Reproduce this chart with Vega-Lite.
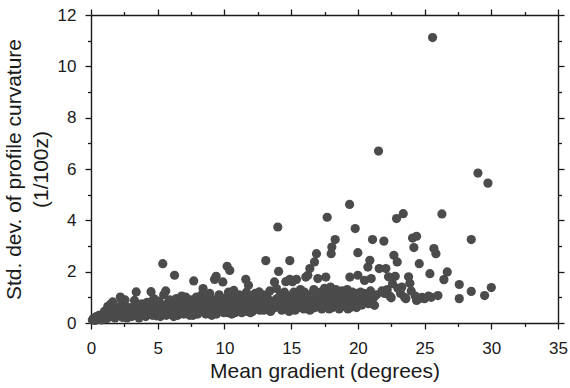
{
  "$schema": "https://vega.github.io/schema/vega-lite/v6.json",
  "width": 467,
  "height": 308,
  "autosize": {"type": "none"},
  "padding": {"left": 91, "top": 15, "right": 12, "bottom": 65},
  "config": {
    "view": {"stroke": null},
    "axis": {
      "domainColor": "#1a1a1a", "tickColor": "#1a1a1a", "labelColor": "#1a1a1a", "titleColor": "#1a1a1a",
      "labelFont": "Liberation Sans", "titleFont": "Liberation Sans",
      "labelFontSize": 17, "titleFontSize": 21, "titleFontWeight": "normal",
      "grid": false, "domainWidth": 1.4, "tickWidth": 1.3, "labelOverlap": false, "labelFlush": false
    }
  },
  "data": {"values": [
    {"g":0.1,"c":0.12},{"g":0.2,"c":0.18},{"g":0.3,"c":0.1},{"g":0.4,"c":0.25},{"g":0.5,"c":0.15},{"g":0.6,"c":0.3},{"g":0.7,"c":0.2},{"g":0.8,"c":0.12},{"g":0.9,"c":0.35},{"g":0.95,"c":0.22},
    {"g":1.1,"c":0.3},{"g":1.2,"c":0.18},{"g":1.26,"c":0.65},{"g":1.35,"c":0.4},{"g":1.5,"c":0.75},{"g":1.55,"c":0.25},{"g":1.63,"c":0.82},{"g":1.7,"c":0.5},{"g":1.8,"c":0.2},{"g":1.9,"c":0.38},{"g":1.95,"c":0.6},
    {"g":2.05,"c":0.3},{"g":2.2,"c":1.01},{"g":2.31,"c":0.85},{"g":2.35,"c":0.22},{"g":2.4,"c":0.55},{"g":2.5,"c":0.7},{"g":2.6,"c":0.35},{"g":2.7,"c":0.2},{"g":2.8,"c":0.45},{"g":2.9,"c":0.6},
    {"g":3.05,"c":0.25},{"g":3.1,"c":0.5},{"g":3.26,"c":0.88},{"g":3.39,"c":1.21},{"g":3.4,"c":0.3},{"g":3.5,"c":0.65},{"g":3.6,"c":0.2},{"g":3.7,"c":0.45},{"g":3.8,"c":0.75},{"g":3.9,"c":0.35},
    {"g":4.0,"c":0.55},{"g":4.1,"c":0.25},{"g":4.2,"c":0.8},{"g":4.3,"c":0.4},{"g":4.5,"c":1.22},{"g":4.5,"c":0.6},{"g":4.6,"c":0.3},{"g":4.7,"c":0.95},{"g":4.8,"c":0.5},{"g":4.9,"c":0.28},{"g":4.95,"c":0.7},
    {"g":5.0,"c":0.4},{"g":5.1,"c":0.85},{"g":5.2,"c":0.25},{"g":5.3,"c":0.6},{"g":5.38,"c":2.31},{"g":5.45,"c":1.1},{"g":5.5,"c":0.45},{"g":5.6,"c":1.25},{"g":5.65,"c":0.3},{"g":5.7,"c":0.75},{"g":5.8,"c":0.55},{"g":5.9,"c":0.9},
    {"g":6.0,"c":0.35},{"g":6.1,"c":0.65},{"g":6.26,"c":1.86},{"g":6.3,"c":0.5},{"g":6.4,"c":0.95},{"g":6.5,"c":0.3},{"g":6.6,"c":0.75},{"g":6.7,"c":0.45},{"g":6.8,"c":1.05},{"g":6.9,"c":0.6},{"g":6.95,"c":0.35},
    {"g":7.0,"c":0.8},{"g":7.1,"c":1.01},{"g":7.2,"c":0.4},{"g":7.3,"c":0.65},{"g":7.4,"c":0.3},{"g":7.5,"c":0.9},{"g":7.6,"c":0.55},{"g":7.7,"c":1.64},{"g":7.8,"c":0.4},{"g":7.9,"c":1.01},{"g":7.95,"c":0.7},
    {"g":8.0,"c":0.35},{"g":8.1,"c":0.85},{"g":8.2,"c":0.6},{"g":8.3,"c":1.1},{"g":8.4,"c":1.34},{"g":8.45,"c":0.45},{"g":8.5,"c":0.75},{"g":8.6,"c":0.35},{"g":8.7,"c":0.95},{"g":8.8,"c":0.55},{"g":8.9,"c":1.15},{"g":8.95,"c":0.4},
    {"g":9.0,"c":0.7},{"g":9.1,"c":0.45},{"g":9.26,"c":1.7},{"g":9.3,"c":0.9},{"g":9.38,"c":1.82},{"g":9.4,"c":0.35},{"g":9.5,"c":0.6},{"g":9.6,"c":1.1},{"g":9.7,"c":0.5},{"g":9.8,"c":0.8},{"g":9.88,"c":1.6},{"g":9.95,"c":0.4},
    {"g":10.0,"c":0.95},{"g":10.1,"c":0.6},{"g":10.2,"c":2.21},{"g":10.25,"c":0.4},{"g":10.3,"c":1.2},{"g":10.4,"c":2.05},{"g":10.45,"c":0.75},{"g":10.5,"c":0.5},{"g":10.6,"c":1.0},{"g":10.7,"c":1.27},{"g":10.75,"c":0.65},{"g":10.8,"c":0.4},{"g":10.9,"c":0.85},
    {"g":11.0,"c":0.55},{"g":11.1,"c":1.1},{"g":11.2,"c":0.7},{"g":11.3,"c":0.4},{"g":11.4,"c":0.95},{"g":11.5,"c":0.6},{"g":11.6,"c":1.7},{"g":11.65,"c":1.2},{"g":11.7,"c":0.45},{"g":11.8,"c":1.47},{"g":11.85,"c":0.8},{"g":11.9,"c":0.55},
    {"g":12.0,"c":1.0},{"g":12.1,"c":0.45},{"g":12.2,"c":0.7},{"g":12.3,"c":1.15},{"g":12.4,"c":0.55},{"g":12.5,"c":0.85},{"g":12.6,"c":1.21},{"g":12.65,"c":0.5},{"g":12.7,"c":0.95},{"g":12.8,"c":0.65},{"g":12.9,"c":1.1},{"g":12.95,"c":0.5},
    {"g":13.0,"c":0.75},{"g":13.1,"c":2.43},{"g":13.15,"c":0.55},{"g":13.2,"c":1.0},{"g":13.3,"c":0.65},{"g":13.4,"c":1.25},{"g":13.5,"c":0.5},{"g":13.6,"c":0.85},{"g":13.75,"c":1.6},{"g":13.8,"c":0.6},{"g":13.9,"c":1.34},{"g":13.95,"c":0.95},
    {"g":14.0,"c":3.74},{"g":14.06,"c":2.01},{"g":14.1,"c":0.7},{"g":14.2,"c":1.1},{"g":14.3,"c":0.5},{"g":14.4,"c":0.9},{"g":14.5,"c":1.2},{"g":14.6,"c":1.61},{"g":14.65,"c":0.6},{"g":14.7,"c":0.8},{"g":14.8,"c":1.05},{"g":14.9,"c":2.43},{"g":14.9,"c":1.7},{"g":14.95,"c":0.55},
    {"g":15.0,"c":0.95},{"g":15.1,"c":1.61},{"g":15.15,"c":0.7},{"g":15.2,"c":1.2},{"g":15.3,"c":0.5},{"g":15.4,"c":1.7},{"g":15.45,"c":0.85},{"g":15.5,"c":1.1},{"g":15.6,"c":0.6},{"g":15.7,"c":1.3},{"g":15.8,"c":0.75},{"g":15.9,"c":1.0},{"g":15.95,"c":0.55},
    {"g":16.0,"c":1.2},{"g":16.1,"c":1.79},{"g":16.15,"c":0.65},{"g":16.25,"c":1.86},{"g":16.3,"c":0.9},{"g":16.4,"c":2.12},{"g":16.45,"c":1.1},{"g":16.5,"c":0.55},{"g":16.6,"c":0.8},{"g":16.7,"c":1.3},{"g":16.75,"c":2.38},{"g":16.8,"c":0.6},{"g":16.9,"c":2.7},{"g":16.95,"c":1.0},
    {"g":17.0,"c":1.73},{"g":17.05,"c":0.7},{"g":17.2,"c":1.2},{"g":17.3,"c":0.55},{"g":17.4,"c":0.95},{"g":17.5,"c":1.35},{"g":17.6,"c":1.79},{"g":17.65,"c":0.65},{"g":17.7,"c":4.12},{"g":17.8,"c":1.1},{"g":17.9,"c":0.8},{"g":17.95,"c":1.4},
    {"g":18.0,"c":2.7},{"g":18.05,"c":2.96},{"g":18.1,"c":0.6},{"g":18.2,"c":1.0},{"g":18.3,"c":3.25},{"g":18.35,"c":1.3},{"g":18.4,"c":0.75},{"g":18.5,"c":1.15},{"g":18.6,"c":0.55},{"g":18.7,"c":0.9},{"g":18.8,"c":1.25},{"g":18.9,"c":0.65},
    {"g":19.0,"c":1.05},{"g":19.1,"c":0.7},{"g":19.2,"c":1.3},{"g":19.38,"c":4.62},{"g":19.4,"c":1.79},{"g":19.45,"c":0.6},{"g":19.5,"c":0.95},{"g":19.6,"c":1.2},{"g":19.7,"c":0.75},{"g":19.8,"c":3.68},{"g":19.85,"c":1.0},{"g":19.9,"c":0.6},{"g":20.0,"c":1.86},{"g":20.0,"c":2.74},
    {"g":20.1,"c":0.9},{"g":20.2,"c":1.2},{"g":20.3,"c":0.7},{"g":20.5,"c":1.66},{"g":20.6,"c":1.0},{"g":20.75,"c":2.18},{"g":20.8,"c":0.75},{"g":20.9,"c":2.44},{"g":21.0,"c":1.73},{"g":21.0,"c":0.95},{"g":21.1,"c":3.25},
    {"g":21.25,"c":0.69},{"g":21.4,"c":1.1},{"g":21.55,"c":6.7},{"g":21.6,"c":2.12},{"g":21.95,"c":3.19},{"g":22.0,"c":1.15},{"g":22.1,"c":2.12},{"g":22.2,"c":1.3},{"g":22.4,"c":1.05},{"g":22.6,"c":1.53},{"g":22.7,"c":2.64},{"g":22.8,"c":1.82},{"g":22.9,"c":4.07},{"g":22.95,"c":2.38},{"g":23.0,"c":1.35},{"g":23.2,"c":1.15},{"g":23.4,"c":4.26},{"g":23.5,"c":1.0},{"g":23.6,"c":0.95},{"g":23.8,"c":1.8},{"g":23.9,"c":1.55},{"g":24.0,"c":1.25},{"g":24.1,"c":3.31},{"g":24.2,"c":2.94},{"g":24.3,"c":1.05},{"g":24.4,"c":3.38},{"g":24.4,"c":0.88},{"g":24.6,"c":2.31},{"g":24.8,"c":1.0},{"g":25.0,"c":0.95},{"g":25.3,"c":1.05},{"g":25.4,"c":1.92},{"g":25.6,"c":11.12},{"g":25.7,"c":2.9},{"g":25.85,"c":2.7},{"g":26.0,"c":1.07},{"g":26.3,"c":4.25},{"g":26.45,"c":1.69},{"g":26.7,"c":1.99},{"g":27.6,"c":1.5},{"g":27.6,"c":0.95},{"g":28.5,"c":3.25},{"g":28.5,"c":1.23},{"g":29.0,"c":5.84},{"g":29.5,"c":1.07},{"g":29.75,"c":5.45},{"g":30.0,"c":1.38},
    {"g":0.35,"c":0.2},{"g":1.0,"c":0.45},{"g":1.45,"c":0.55},{"g":2.15,"c":0.45},{"g":2.55,"c":0.9},{"g":3.0,"c":0.4},{"g":3.55,"c":0.55},{"g":4.05,"c":0.35},{"g":4.4,"c":0.5},{"g":4.85,"c":0.85},
    {"g":5.25,"c":0.5},{"g":5.55,"c":0.65},{"g":6.05,"c":0.5},{"g":6.35,"c":0.8},{"g":6.75,"c":0.4},{"g":7.15,"c":0.55},{"g":7.55,"c":0.75},{"g":7.85,"c":0.5},{"g":8.25,"c":0.45},{"g":8.55,"c":0.9},
    {"g":8.85,"c":0.65},{"g":9.15,"c":0.6},{"g":9.45,"c":0.8},{"g":9.75,"c":0.65},{"g":10.05,"c":0.5},{"g":10.35,"c":0.85},{"g":10.65,"c":0.55},{"g":10.95,"c":0.7},{"g":11.25,"c":0.55},{"g":11.55,"c":0.85},
    {"g":11.75,"c":1.0},{"g":12.05,"c":0.6},{"g":12.35,"c":0.85},{"g":12.55,"c":0.65},{"g":12.85,"c":0.8},{"g":13.05,"c":0.9},{"g":13.35,"c":0.8},{"g":13.55,"c":0.7},{"g":13.85,"c":0.75},{"g":14.15,"c":0.85},
    {"g":14.35,"c":0.65},{"g":14.55,"c":1.0},{"g":14.75,"c":0.7},{"g":15.05,"c":0.8},{"g":15.25,"c":0.95},{"g":15.35,"c":0.65},{"g":15.55,"c":0.75},{"g":15.75,"c":0.95},{"g":15.85,"c":1.15},{"g":16.05,"c":0.75},
    {"g":16.2,"c":1.0},{"g":16.35,"c":0.7},{"g":16.55,"c":0.95},{"g":16.65,"c":1.15},{"g":16.85,"c":0.8},{"g":17.1,"c":0.9},{"g":17.25,"c":0.75},{"g":17.45,"c":1.1},{"g":17.55,"c":0.8},{"g":17.75,"c":0.95},
    {"g":17.85,"c":1.25},{"g":18.15,"c":0.8},{"g":18.25,"c":1.15},{"g":18.45,"c":0.95},{"g":18.65,"c":1.05},{"g":18.75,"c":0.75},{"g":18.95,"c":0.85},{"g":19.15,"c":0.95},{"g":19.3,"c":0.8},{"g":19.55,"c":1.1},
    {"g":19.75,"c":0.9},{"g":19.95,"c":1.15},{"g":20.15,"c":1.05},{"g":20.4,"c":0.85},{"g":20.45,"c":1.15},{"g":20.7,"c":0.9},{"g":20.95,"c":1.25},{"g":21.2,"c":1.0},{"g":6.2,"c":0.25},{"g":7.65,"c":0.3},
    {"g":9.05,"c":0.3},{"g":10.55,"c":0.35},{"g":11.95,"c":0.4},{"g":13.45,"c":0.45},{"g":14.85,"c":0.45},{"g":16.4,"c":0.5},{"g":17.85,"c":0.55},{"g":19.25,"c":0.55},{"g":22.5,"c":0.98},{"g":23.3,"c":1.4},
    {"g":24.6,"c":0.95},{"g":25.5,"c":1.0},{"g":22.3,"c":1.8},{"g":21.8,"c":1.25}
  ]},
  "layer": [
    {
      "mark": {"type": "point", "filled": true, "size": 85, "color": "#4b4b4b", "opacity": 1},
      "encoding": {
        "x": {"field": "g", "type": "quantitative",
          "scale": {"domain": [0, 35], "nice": false, "zero": false},
          "axis": {"orient": "bottom", "values": [0,2.5,5,7.5,10,12.5,15,17.5,20,22.5,25,27.5,30,32.5,35],
            "labelExpr": "datum.value % 5 === 0 ? datum.label : ''",
            "tickSize": {"condition": {"test": "datum.value % 5 === 0", "value": 6}, "value": 3.5},
            "labelPadding": 11, "title": "Mean gradient (degrees)", "titlePadding": 4}},
        "y": {"field": "c", "type": "quantitative",
          "scale": {"domain": [0, 12], "nice": false, "zero": false},
          "axis": {"orient": "left", "values": [0,1,2,3,4,5,6,7,8,9,10,11,12],
            "labelExpr": "datum.value % 2 === 0 ? datum.label : ''",
            "tickSize": {"condition": {"test": "datum.value % 2 === 0", "value": 6}, "value": 3.5},
            "labelPadding": 9, "title": ["Std. dev. of profile curvature", "(1/100z)"], "titlePadding": 6, "titleLineHeight": 27}}
      }
    },
    {
      "mark": {"type": "point", "opacity": 0},
      "encoding": {
        "x": {"field": "g", "type": "quantitative",
          "axis": {"orient": "top", "values": [0,2.5,5,7.5,10,12.5,15,17.5,20,22.5,25,27.5,30,32.5,35], "labels": false, "title": null,
            "tickSize": {"condition": {"test": "datum.value % 5 === 0", "value": 6}, "value": 3.5}}},
        "y": {"field": "c", "type": "quantitative",
          "axis": {"orient": "right", "values": [0,1,2,3,4,5,6,7,8,9,10,11,12], "labels": false, "title": null,
            "tickSize": {"condition": {"test": "datum.value % 2 === 0", "value": 6}, "value": 3.5}}}
      }
    }
  ],
  "resolve": {"axis": {"x": "independent", "y": "independent"}}
}
